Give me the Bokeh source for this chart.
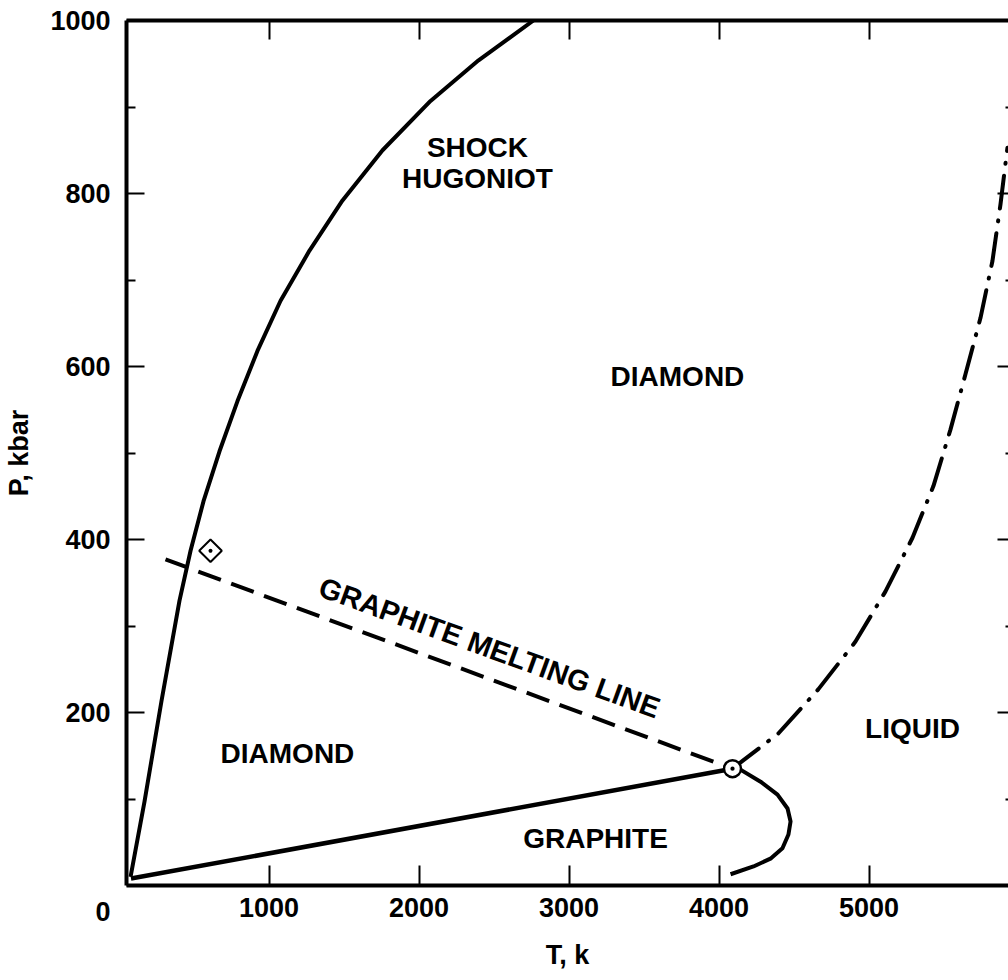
import math
from bokeh.plotting import figure
from bokeh.models import Range1d, LinearAxis, FixedTicker
from bokeh.core.properties import value
from bokeh.embed import file_html
from bokeh.resources import INLINE

# ---------------- data (T in K, P in kbar) ----------------
hug_T = [77, 170, 283, 403, 477, 563, 670, 790, 923, 1077, 1270, 1490,
         1757, 2077, 2397, 2763]
hug_P = [10, 97, 213, 329, 387, 444, 502, 560, 618, 676, 734, 792,
         850, 907, 954, 1000]

gd_T = [80, 4090]          # graphite / diamond boundary
gd_P = [8, 135]

gmelt_T = [4090, 4143, 4277, 4390, 4457, 4477, 4463, 4423, 4343, 4230, 4077]
gmelt_P = [135, 134, 120, 105, 89, 74, 59, 43, 31, 22, 13]

dmelt_T = [4090, 4157, 4397, 4663, 4910, 5110, 5290, 5430, 5543, 5643,
           5743, 5823, 5877, 5923]
dmelt_P = [135, 144, 176, 227, 282, 340, 402, 462, 527, 591, 656, 722, 788, 853]

gml_T = [310, 4090]        # extrapolated graphite melting line
gml_P = [377, 135]

triple_T = [4090]
triple_P = [135]
point_T = [610]
point_P = [387]

region_text = ["SHOCK", "HUGONIOT", "DIAMOND", "DIAMOND", "LIQUID", "GRAPHITE"]
region_T = [2390, 2390, 3723, 1123, 5290, 3177]
region_P = [853, 817, 589, 153, 182, 54]

line_label = ["GRAPHITE MELTING LINE"]
line_label_T = [2470]
line_label_P = [275]

x_ticks = [1000, 2000, 3000, 4000, 5000]
y_ticks = [0, 200, 400, 600, 800, 1000]
y_minor = [100, 300, 500, 700, 900]

FONT = "Liberation Sans"

p = figure(width=1008, height=980,
           x_range=Range1d(50, 5930), y_range=Range1d(0, 1000),
           output_backend="svg", toolbar_location=None,
           min_border_left=126, min_border_right=0,
           min_border_top=20, min_border_bottom=95)
p.xgrid.grid_line_color = None
p.ygrid.grid_line_color = None
p.outline_line_color = None
p.background_fill_color = "white"
p.border_fill_color = "white"

def style_labels(ax, size="27px"):
    ax.major_label_text_font = FONT
    ax.major_label_text_font_size = size
    ax.major_label_text_font_style = "bold"
    ax.major_label_text_color = "black"
    ax.axis_label_text_font = FONT
    ax.axis_label_text_font_size = "27px"
    ax.axis_label_text_font_style = "bold"
    ax.axis_label_text_color = "black"

# bottom axis
xa = p.xaxis[0]
xa.ticker = FixedTicker(ticks=x_ticks)
xa.axis_line_width = 4
xa.axis_line_color = "black"
xa.major_tick_in = 20
xa.major_tick_out = 0
xa.major_tick_line_width = 2
xa.major_tick_line_color = "black"
xa.minor_tick_line_color = None
xa.major_label_standoff = 12
xa.axis_label = "T, k"
xa.axis_label_standoff = 20
style_labels(xa)

# left axis; the shared corner "0" is set a little below the corner
ya = p.yaxis[0]
ya.ticker = FixedTicker(ticks=y_ticks, minor_ticks=y_minor)
ya.axis_line_width = 4
ya.axis_line_color = "black"
ya.major_tick_in = 18
ya.major_tick_out = 0
ya.minor_tick_in = 9
ya.minor_tick_out = 0
ya.major_tick_line_width = 2
ya.minor_tick_line_width = 2
ya.major_tick_line_color = "black"
ya.minor_tick_line_color = "black"
ya.major_label_overrides = {0: "\n\n0"}
ya.major_label_text_line_height = 0.88
ya.major_label_standoff = 16
ya.axis_label = "P, kbar"
ya.axis_label_standoff = 13
style_labels(ya)

# top axis (ticks only)
ta = LinearAxis(ticker=FixedTicker(ticks=x_ticks))
ta.axis_line_width = 4
ta.axis_line_color = "black"
ta.major_tick_in = 19
ta.major_tick_out = 0
ta.major_tick_line_width = 2
ta.minor_tick_line_color = None
ta.major_label_text_font_size = "0px"
ta.major_label_text_alpha = 0
ta.major_label_standoff = 0
p.add_layout(ta, "above")

# right axis (ticks only, frame edge lies outside the picture)
ra = LinearAxis(ticker=FixedTicker(ticks=y_ticks, minor_ticks=y_minor))
ra.axis_line_color = None
ra.major_tick_in = 11
ra.major_tick_out = 0
ra.minor_tick_in = 3
ra.minor_tick_out = 0
ra.major_tick_line_width = 2
ra.minor_tick_line_width = 2
ra.major_label_text_font_size = "0px"
ra.major_label_text_alpha = 0
ra.major_label_standoff = 0
p.add_layout(ra, "right")

# curves
p.line(hug_T, hug_P, line_width=4, line_color="black", line_join="round")
p.line(gd_T, gd_P, line_width=4.5, line_color="black")
p.line(gmelt_T, gmelt_P, line_width=4, line_color="black", line_join="round")
p.line(dmelt_T, dmelt_P, line_width=4, line_color="black",
       line_dash="33 12 1 12", line_cap="round", line_join="round")
p.line(gml_T, gml_P, line_width=4, line_color="black", line_dash="24 11")

p.scatter(triple_T, triple_P, marker="circle_dot", size=17,
          fill_color="white", line_color="black", line_width=2.5)
p.scatter(point_T, point_P, marker="square_dot", size=16, angle=math.pi / 4,
          fill_color="white", line_color="black", line_width=2)

# labels
p.text(region_T, region_P, text=region_text, text_font=value(FONT),
       text_font_style="bold", text_font_size="28px", text_color="black",
       text_align="center", text_baseline="middle")
p.text(line_label_T, line_label_P, text=line_label, text_font=value(FONT),
       text_font_style="bold", text_font_size="29px", text_color="black",
       text_align="center", text_baseline="middle", angle=-math.radians(20))

open("out.html", "w").write(file_html(p, INLINE))
